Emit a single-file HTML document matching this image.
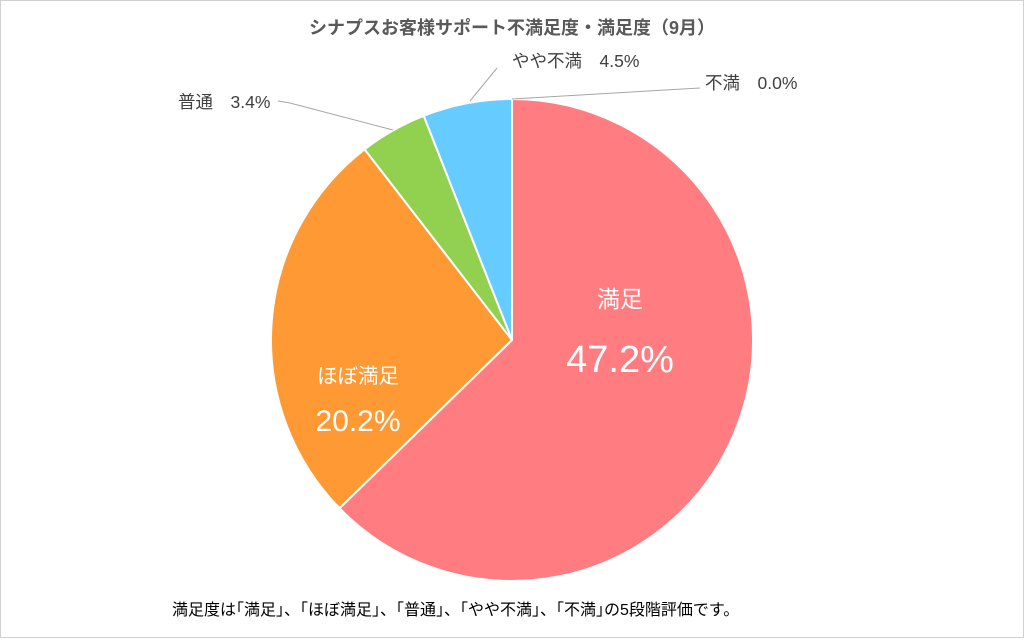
<!DOCTYPE html>
<html><head><meta charset="utf-8"><style>
body{margin:0;background:#fff;}
svg text{font-family:"Liberation Sans","Noto Sans CJK JP",sans-serif;}
</style></head><body>
<svg width="1024" height="638" xmlns="http://www.w3.org/2000/svg">
<rect x="0.5" y="0.5" width="1023" height="637" fill="#fff" stroke="#d0d0d0"/>
<text x="512" y="34" text-anchor="middle" font-size="18" font-weight="bold" fill="#595959">シナプスお客様サポート不満足度・満足度（9月）</text>
<g stroke="#fff" stroke-width="2" stroke-linejoin="round">
<path d="M512,340 L512,99 A241,241 0 1 1 339.5,508.3 Z" fill="#ff7c80"/>
<path d="M512,340 L339.5,508.3 A241,241 0 0 1 364.6,149.3 Z" fill="#ff9933"/>
<path d="M512,340 L364.6,149.3 A241,241 0 0 1 423.7,115.8 Z" fill="#92d050"/>
<path d="M512,340 L423.7,115.8 A241,241 0 0 1 512,99 Z" fill="#66ccff"/>
</g>
<g stroke="#a6a6a6" stroke-width="1" fill="none">
<polyline points="278,101 290,103 393,130"/>
<polyline points="497,68 470,101"/>
<polyline points="700,88 512,99"/>
</g>
<g font-size="17.5" fill="#404040">
<text x="178" y="108">普通　3.4%</text>
<text x="512" y="67">やや不満　4.5%</text>
<text x="705" y="89">不満　0.0%</text>
</g>
<g fill="#fff">
<text x="620" y="307" text-anchor="middle" font-size="23">満足</text>
<text x="620" y="372" text-anchor="middle" font-size="38">47.2%</text>
<text x="358" y="383" text-anchor="middle" font-size="20.5">ほぼ満足</text>
<text x="358" y="431" text-anchor="middle" font-size="30">20.2%</text>
</g>
<text x="172" y="615" font-size="16" fill="#000">満足度は｢満足｣、｢ほぼ満足｣、｢普通｣、｢やや不満｣、｢不満｣の5段階評価です。</text>
</svg>
</body></html>
